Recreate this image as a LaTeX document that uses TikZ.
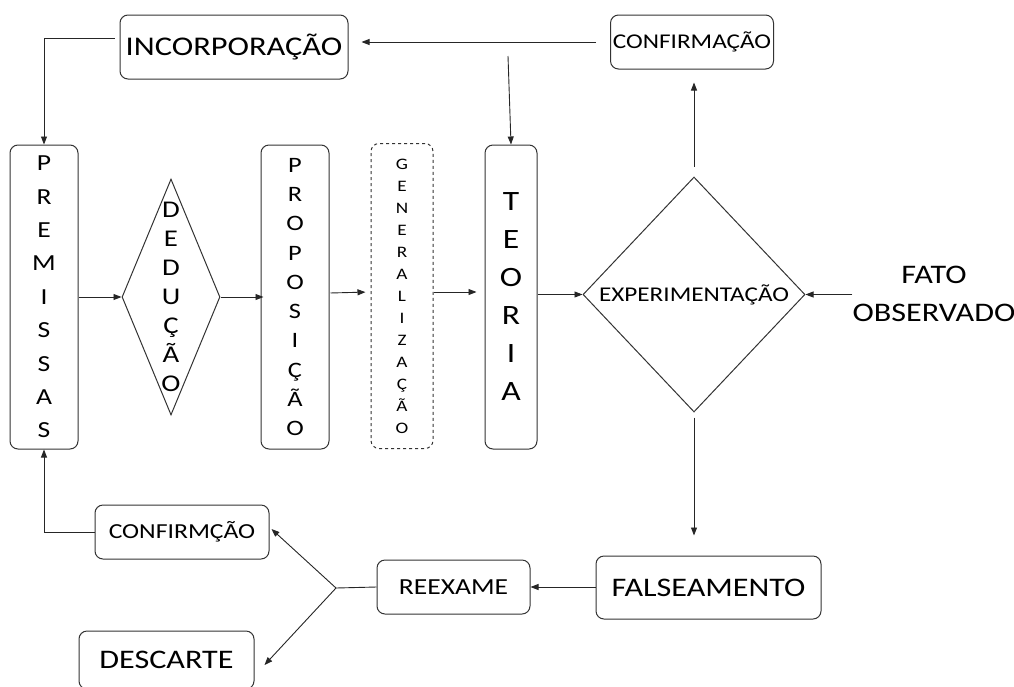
\documentclass[tikz,border=0pt]{standalone}
\usepackage{fontspec}
\setmainfont{Carlito}[FakeStretch=1.2]
\usetikzlibrary{arrows.meta,shapes.geometric,calc}
\newcommand\fsz[2]{\fontsize{#1}{#2}\selectfont}
\begin{document}
\begin{tikzpicture}[x=1pt,y=-1pt,
  box/.style={draw=black!80, line width=1pt, rounded corners=8pt, inner sep=0pt, align=center},
  dia/.style={diamond, draw=black!80, line width=1pt, inner sep=0pt},
  arr/.style={-{Triangle[length=8pt,width=6pt]}, line width=0.9pt, draw=black!85},
  ln/.style={line width=0.9pt, draw=black!85},
  vtxt/.style={align=center, inner sep=0pt}]
\useasboundingbox (0,0) rectangle (1014,686);

% top boxes
\node[box, minimum width=228pt, minimum height=64pt, font=\fsz{27}{30}] (incorp) at (234,47) {INCORPORAÇÃO};
\node[box, minimum width=163pt, minimum height=54pt, font=\fsz{21}{24}] (conf1) at (692,42) {CONFIRMAÇÃO};

% main row
\node[box, minimum width=68pt, minimum height=304pt, font=\fsz{23}{33.4}] (prem) at (44,297) {P\\R\\E\\M\\I\\S\\S\\A\\S};
\node[dia, minimum width=98pt, minimum height=236pt, aspect=0.415] (ded) at (171,297) {};
\node[vtxt, font=\fsz{24}{29}] (dedt) at (171,297) {D\\E\\D\\U\\Ç\\Ã\\O};
\node[box, minimum width=68pt, minimum height=304pt, font=\fsz{22}{29.3}] (prop) at (295,297) {P\\R\\O\\P\\O\\S\\I\\Ç\\Ã\\O};
\node[box, dashed, minimum width=62pt, minimum height=305pt, font=\fsz{16}{22}] (gen) at (402,296) {G\\E\\N\\E\\R\\A\\L\\I\\Z\\A\\Ç\\Ã\\O};
\node[box, minimum width=52pt, minimum height=304pt, font=\fsz{28}{38}] (teo) at (511,297) {T\\E\\O\\R\\I\\A};
\node[dia, minimum width=222pt, minimum height=235pt, aspect=0.945] (exp) at (694,294.5) {};
\node[vtxt, font=\fsz{21}{24}] (expt) at (694,294.5) {EXPERIMENTAÇÃO};
\node[align=center, inner sep=0pt, font=\fsz{26.8}{38}] (fato) at (934,294) {FATO\\OBSERVADO};

% bottom boxes
\node[box, minimum width=225pt, minimum height=63pt, font=\fsz{26.8}{30}] (fals) at (708.5,587.5) {FALSEAMENTO};
\node[box, minimum width=153pt, minimum height=54pt, font=\fsz{23}{26}] (reex) at (453.5,587) {REEXAME};
\node[box, minimum width=174pt, minimum height=54pt, font=\fsz{21.4}{24}] (conf2) at (182,532) {CONFIRMÇÃO};
\node[box, minimum width=175pt, minimum height=58pt, font=\fsz{26.8}{30}] (desc) at (166.5,660) {DESCARTE};

\coordinate (tstart) at (508,56);
\coordinate (br) at (336,588);

% connectors
\draw[arr, shorten <=5pt] ([yshift=9pt]incorp.west) -| (prem.north);
\draw[arr, shorten <=14pt, shorten >=13pt] (conf1.west) -- (incorp.east |- conf1.west);
\draw[arr] (tstart) -- (teo.north);
\draw[arr, shorten <=10pt, shorten >=13pt] (exp.north) -- (exp.north |- conf1.south);
\draw[arr] (prem.east |- ded.west) -- (ded.west);
\draw[arr, shorten >=-3pt] (ded.east) -- (prop.west |- ded.east);
\draw[arr, shorten <=1pt, shorten >=5pt] ([yshift=4pt]prop.east) -- ([yshift=4pt]gen.west);
\draw[arr, shorten >=8pt] ([yshift=4pt]gen.east) -- ([yshift=5pt]teo.west);
\draw[arr] (teo.east |- exp.west) -- (exp.west);
\draw[arr] (fato.west |- exp.east) -- (exp.east);
\draw[arr, shorten <=5pt, shorten >=20pt] (exp.south) -- (exp.south |- fals.north);
\draw[arr] (fals.west |- reex.east) -- (reex.east);
\draw[ln] (reex.west) -- (br);
\draw[arr] (br) -- ($(conf2.east)+(2,-3)$);
\draw[arr] (br) -- ($(desc.east)+(10,5)$);
\draw[arr] (conf2.west) -| (prem.south);
\end{tikzpicture}
\end{document}
